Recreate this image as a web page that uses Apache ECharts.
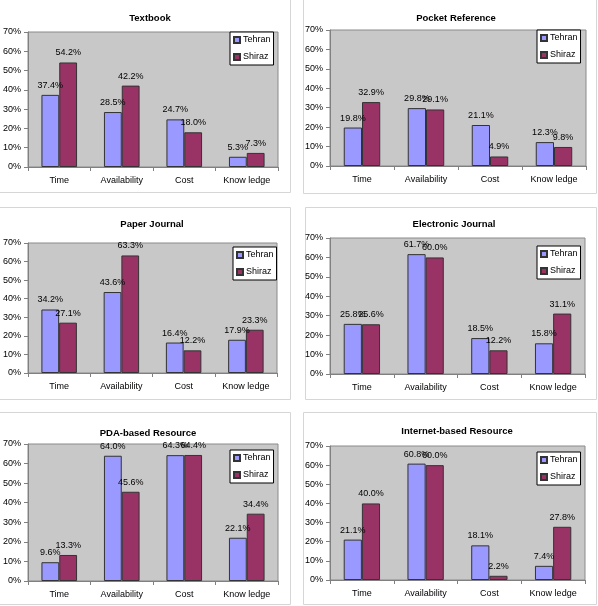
<!DOCTYPE html>
<html>
<head>
<meta charset="utf-8">
<script src="https://cdn.jsdelivr.net/npm/echarts@6/dist/echarts.min.js"></script>
<style>
html,body{margin:0;padding:0;background:#fff;}
#main{width:598px;height:606px;}
</style>
</head>
<body>
<div id="main"></div>
<script>
// ---- data ----
var categories = ['Time', 'Availability', 'Cost', 'Know ledge'];
var seriesNames = ['Tehran', 'Shiraz'];
var yTicks = [0, 10, 20, 30, 40, 50, 60, 70];
var panelTitles = ['Textbook', 'Pocket Reference', 'Paper Journal', 'Electronic Journal', 'PDA-based Resource', 'Internet-based Resource'];

var textbookTehran   = [37.4, 28.5, 24.7, 5.3];
var textbookShiraz   = [54.2, 42.2, 18.0, 7.3];
var pocketTehran     = [19.8, 29.8, 21.1, 12.3];
var pocketShiraz     = [32.9, 29.1, 4.9, 9.8];
var paperTehran      = [34.2, 43.6, 16.4, 17.9];
var paperShiraz      = [27.1, 63.3, 12.2, 23.3];
var electronicTehran = [25.8, 61.7, 18.5, 15.8];
var electronicShiraz = [25.6, 60.0, 12.2, 31.1];
var pdaTehran        = [9.6, 64.0, 64.3, 22.1];
var pdaShiraz        = [13.3, 45.6, 64.4, 34.4];
var internetTehran   = [21.1, 60.8, 18.1, 7.4];
var internetShiraz   = [40.0, 60.0, 2.2, 27.8];

var panelData = [
  [textbookTehran, textbookShiraz],
  [pocketTehran, pocketShiraz],
  [paperTehran, paperShiraz],
  [electronicTehran, electronicShiraz],
  [pdaTehran, pdaShiraz],
  [internetTehran, internetShiraz]
];

// ---- layout (pixels) ----
var boxes = [
  {x: -1, y: -1, w: 291, h: 193},
  {x: 303, y: -1, w: 293, h: 194},
  {x: -1, y: 207, w: 291, h: 192},
  {x: 305, y: 207, w: 291, h: 192},
  {x: -1, y: 412, w: 291, h: 192},
  {x: 303, y: 412, w: 293, h: 192}
];
var grids = [
  {left: 27, top: 32, width: 251, height: 135},
  {left: 330, top: 30, width: 256, height: 136},
  {left: 27, top: 243, width: 250, height: 130},
  {left: 330, top: 238, width: 255, height: 136},
  {left: 27, top: 444, width: 251, height: 137},
  {left: 330, top: 446, width: 255, height: 134}
];
var titlePos = [
  {x: 145, y: 13}, {x: 451, y: 13},
  {x: 147, y: 219}, {x: 449, y: 219},
  {x: 143, y: 428}, {x: 452, y: 426}
];
var legendPos = [
  {left: 230, top: 32}, {left: 537, top: 30},
  {left: 233, top: 247}, {left: 537, top: 246},
  {left: 230, top: 450}, {left: 537, top: 452}
];

var FONT = 'Liberation Sans, Arial, sans-serif';
var colors = ['#9999FF', '#993366'];

var option = {
  backgroundColor: '#ffffff',
  animation: false,
  textStyle: {fontFamily: FONT},
  graphic: [],
  title: [],
  legend: [],
  grid: [],
  xAxis: [],
  yAxis: [],
  series: []
};

for (var i = 0; i < 6; i++) {
  var b = boxes[i];
  option.graphic.push({
    type: 'rect', z: -10, silent: true,
    shape: {x: b.x + 0.5, y: b.y + 0.5, width: b.w, height: b.h},
    style: {fill: '#ffffff', stroke: '#d6d6d6', lineWidth: 1}
  });
  option.title.push({
    text: panelTitles[i],
    left: titlePos[i].x, top: titlePos[i].y,
    textAlign: 'center', textVerticalAlign: 'middle',
    textStyle: {fontFamily: FONT, fontSize: 9.5, fontWeight: 'bold', color: '#000'}
  });
  option.legend.push({
    data: seriesNames,
    orient: 'vertical',
    left: legendPos[i].left, top: legendPos[i].top,
    icon: 'rect', itemWidth: 6, itemHeight: 6, itemGap: 5,
    padding: [2, 3, 2, 3],
    backgroundColor: '#ffffff', borderColor: '#000000', borderWidth: 1, borderRadius: 0,
    textStyle: {fontFamily: FONT, fontSize: 9, color: '#000', lineHeight: 12, padding: [0, 0, 0, -2]},
    selectedMode: false
  });
  var g = grids[i];
  option.grid.push({
    left: g.left, top: g.top, width: g.width, height: g.height,
    show: true, backgroundColor: '#c8c8c8', borderColor: '#8a8a8a', borderWidth: 1,
    containLabel: false
  });
  option.xAxis.push({
    type: 'category', gridIndex: i, data: categories,
    axisLine: {show: true, lineStyle: {color: '#808080', width: 1}},
    axisTick: {show: true, alignWithLabel: false, length: 4, lineStyle: {color: '#808080'}},
    axisLabel: {fontFamily: FONT, fontSize: 9, color: '#000', margin: 9},
    splitLine: {show: false}
  });
  option.yAxis.push({
    type: 'value', gridIndex: i, min: yTicks[0], max: yTicks[yTicks.length - 1], interval: 10,
    axisLine: {show: true, lineStyle: {color: '#808080', width: 1}},
    axisTick: {show: true, length: 4, lineStyle: {color: '#808080'}},
    axisLabel: {fontFamily: FONT, fontSize: 9, color: '#000', margin: 7, formatter: '{value}%'},
    splitLine: {show: false}
  });
  for (var s = 0; s < 2; s++) {
    option.series.push({
      type: 'bar', name: seriesNames[s],
      xAxisIndex: i, yAxisIndex: i,
      data: panelData[i][s],
      barGap: '0%', barCategoryGap: '43%',
      itemStyle: {color: colors[s], borderColor: '#333333', borderWidth: 1},
      label: {
        show: true, position: 'top', distance: 5,
        fontFamily: FONT, fontSize: 9, color: '#000',
        formatter: function (p) { return p.value.toFixed(1) + '%'; }
      }
    });
  }
}

var chart = echarts.init(document.getElementById('main'), null, {renderer: 'canvas'});
chart.setOption(option);
</script>
</body>
</html>
